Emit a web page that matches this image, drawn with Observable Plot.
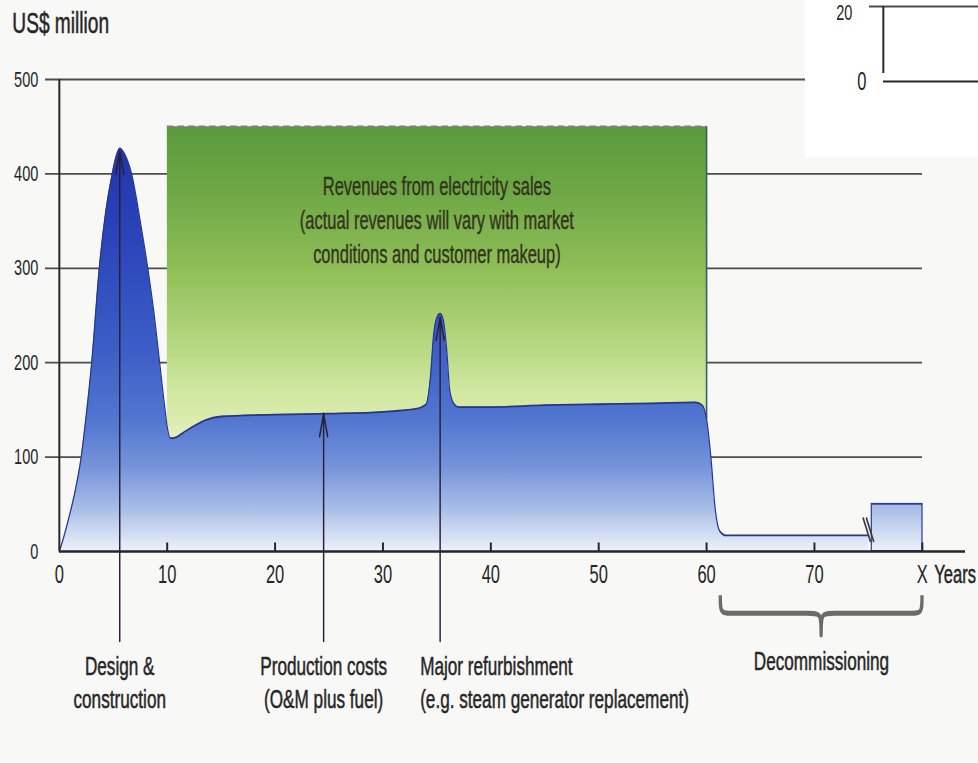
<!DOCTYPE html>
<html>
<head>
<meta charset="utf-8">
<script src="https://cdn.jsdelivr.net/npm/d3@7"></script>
<script src="https://cdn.jsdelivr.net/npm/@observablehq/plot@0.6"></script>
<style>
  html, body { margin: 0; padding: 0; background: #f8f8f6; }
  #wrap { position: relative; width: 978px; height: 763px; overflow: hidden; }
  #inset { position: absolute; left: 805px; top: 0; width: 173px; height: 157px; background: #ffffff; }
</style>
</head>
<body>
<div id="wrap"><div id="chart"></div><div id="inset"></div></div>
<script>
// Lifetime cash flows of a power plant, US$ million per year

// Cost curve: design & construction, operation, refurbishment, shutdown
const years = [0, 0.5, 1, 1.5, 2, 2.5, 3, 3.7, 4.3, 4.9, 5.3, 5.6, 6.0, 6.7, 7.5, 8.2, 8.8, 9.3, 9.8,
  10, 10.3, 10.8, 11.5, 12.5, 13.5, 15, 20, 25, 30, 33, 34, 34.4, 34.7, 35, 35.3, 35.6, 35.9, 36.2, 36.6, 37,
  40, 45, 50, 55, 59, 59.6, 60, 60.4, 60.8, 61.2, 61.8, 70, 75];
const costs = [0, 19, 41, 66, 98, 145, 200, 300, 360, 400, 420, 427, 422, 400, 350, 300, 250, 200, 150,
  132, 120, 121, 126, 133, 139, 143, 145, 146, 148, 151, 156, 185, 230, 248, 252, 245, 215, 170, 156, 153,
  153, 155, 156, 157, 158, 155, 140, 100, 45, 22, 17, 17, 17];

// Revenue band during the operating life
const revenueLevel = 450;
const revenueStart = 10;
const revenueEnd = 60;

// Final decommissioning spending after the axis break
const decomBlock = [{x1: 75.3, x2: 80, value: 50}];
const decomSpan = [61.3, 80];
const breakYear = 74.85;
const breakTop = 36;
const breakBottom = 10;

// Axes
const yTicks = [0, 100, 200, 300, 400, 500];
const xTicks = [0, 10, 20, 30, 40, 50, 60, 70, 80];
const xTickLabels = ["0", "10", "20", "30", "40", "50", "60", "70", "X"];

// Annotated phases
const annotYears = [5.6, 24.5, 35.3];
const annotTips = [424, 146, 248];
const annotLabels = [
  "Design &\nconstruction",
  "Production costs\n(O&M plus fuel)",
  "Major refurbishment\n(e.g. steam generator replacement)"
];
const arrowBase = -95;
const revenueNote = "Revenues from electricity sales\n(actual revenues will vary with market\nconditions and customer makeup)";

// Neighbouring panel axis
const insetTicks = [0, 20];

// The artwork uses a horizontally condensed type: lay out wide, then compress.
const S = 0.66;
const hx = v => v / S;
const W = 978 / S, H = 763;
const ink = "#262626";
const font = "'Liberation Sans', Arial, 'DejaVu Sans', sans-serif";
const bold = {stroke: ink, strokeWidth: 0.5};

const costData = years.map((year, i) => ({year, cost: costs[i]}));
const lifeData = costData.filter(d => d.year >= revenueStart && d.year <= revenueEnd);
const costAt = yr => costData.find(d => d.year === yr).cost;
const annotations = annotYears.map((year, i) => ({year, tip: annotTips[i], label: annotLabels[i]}));

const plot = Plot.plot({
  width: W,
  height: H,
  marginLeft: hx(59),
  marginRight: hx(56),
  marginTop: 79,
  marginBottom: 212,
  style: {fontFamily: font, fontSize: "22px", color: ink, background: "transparent", overflow: "visible"},
  x: {domain: [0, 80], label: null},
  y: {domain: [0, 500], label: null},
  marks: [
    // grid lines (with their left stubs acting as ticks)
    Plot.ruleY(yTicks.filter(d => d > 0), {stroke: "#4d4d4d", strokeWidth: 1.8, insetLeft: -hx(14)}),
    // revenue band above the cost curve
    Plot.areaY(lifeData, {x: "year", y1: "cost", y2: revenueLevel, curve: "monotone-x", fill: "url(#revenueFill)"}),
    Plot.ruleY([revenueLevel], {x1: revenueStart, x2: revenueEnd, stroke: "#7a8472", strokeWidth: 2.4, strokeDasharray: "10,6"}),
    Plot.ruleX([revenueEnd], {y1: costAt(revenueEnd), y2: revenueLevel, stroke: "#37606a", strokeWidth: 2.4}),
    // cost area
    Plot.areaY(costData, {x: "year", y: "cost", curve: "monotone-x", fill: "url(#costFill)"}),
    Plot.rectY(decomBlock, {x1: "x1", x2: "x2", y: "value", fill: "url(#costFill)", stroke: "#2b3a95", strokeWidth: 1.8}),
    Plot.lineY(costData, {x: "year", y: "cost", curve: "monotone-x", stroke: "#27358f", strokeWidth: 1.8}),
    // axis break marks
    Plot.link([0, 1], {
      x1: k => breakYear - 0.35 + k * 0.3, x2: k => breakYear + 0.35 + k * 0.3,
      y1: breakTop, y2: breakBottom, stroke: "#3a3a4a", strokeWidth: 2.4
    }),
    // phase arrows
    Plot.arrow(annotations, {
      x1: "year", x2: "year", y1: arrowBase, y2: "tip",
      stroke: "#2a1f38", strokeWidth: 2.2, headLength: 16, headAngle: 30
    }),
    // axes
    Plot.ruleX([0], {y1: 0, y2: 500, stroke: ink, strokeWidth: 3}),
    Plot.ruleX(xTicks.filter(d => d > 0), {y1: 0, y2: 9, stroke: ink, strokeWidth: 3}),
    Plot.ruleY([0], {stroke: ink, strokeWidth: 2.4, insetRight: -hx(43)}),
    Plot.axisY(yTicks, {tickSize: 0, tickPadding: hx(21), fontSize: 22, fill: ink, ...bold, label: null}),
    Plot.axisX(xTicks, {tickSize: 0, tickPadding: 14, fontSize: 25, fill: ink, ...bold, label: null,
      tickFormat: d => xTickLabels[xTicks.indexOf(d)]}),
    Plot.text(["Years"], {x: 80, frameAnchor: "bottom", dy: 14, dx: hx(12), textAnchor: "start",
      lineAnchor: "top", fontSize: 25, fill: ink, ...bold}),
    Plot.text(["US$ million"], {frameAnchor: "top-left", dx: -hx(47), dy: -67, textAnchor: "start",
      lineAnchor: "top", fontSize: 29, fill: ink, ...bold}),
    // notes
    Plot.text([revenueNote], {x: (revenueStart + revenueEnd) / 2, y: revenueLevel, dy: 44, lineAnchor: "top",
      lineHeight: 1.36, fontSize: 25, fill: "#33331f", stroke: "#33331f", strokeWidth: 0.4}),
    Plot.text(annotations.slice(0, 2), {x: "year", text: "label", frameAnchor: "bottom", dy: 100,
      lineAnchor: "top", lineHeight: 1.26, fontSize: 26, fill: ink, ...bold}),
    Plot.text(annotations.slice(2), {x: "year", text: "label", frameAnchor: "bottom", dy: 100, dx: -hx(20),
      textAnchor: "start", lineAnchor: "top", lineHeight: 1.26, fontSize: 26, fill: ink, ...bold}),
    Plot.text(["Decommissioning"], {x: (decomSpan[0] + decomSpan[1]) / 2, frameAnchor: "bottom", dy: 100,
      lineAnchor: "top", fontSize: 26, fill: ink, ...bold})
  ]
});

const xs = plot.scale("x").apply;
const ys = plot.scale("y").apply;
const svg = d3.select(plot);
const defs = svg.insert("defs", ":first-child");

function gradient(id, top, bottom, stops) {
  const y0 = ys(top), y1 = ys(bottom);
  const g = defs.append("linearGradient").attr("id", id).attr("gradientUnits", "userSpaceOnUse")
    .attr("x1", 0).attr("x2", 0).attr("y1", y0).attr("y2", y1);
  for (const [v, c] of stops) {
    g.append("stop").attr("offset", (ys(v) - y0) / (y1 - y0)).attr("stop-color", c);
  }
}
gradient("costFill", 430, 0, [
  [430, "#2233ab"], [330, "#2b45b9"], [220, "#3b5cc5"], [140, "#5176d0"],
  [90, "#7593da"], [45, "#a8bde7"], [0, "#eef2f9"]
]);
gradient("revenueFill", revenueLevel, 120, [
  [450, "#5a9a3b"], [380, "#6ea845"], [300, "#8fbe57"], [230, "#b0d47a"],
  [170, "#d0e7a0"], [120, "#e2efb9"]
]);

// brace spanning the decommissioning period
const xL = xs(decomSpan[0]), xR = xs(decomSpan[1]), xM = (xL + xR) / 2;
const yTop = ys(-47), yMid = ys(-66), yTip = ys(-89), r = hx(14);
svg.append("path")
  .attr("fill", "none").attr("stroke", "#6b6b6b").attr("stroke-width", 5).attr("stroke-linejoin", "round")
  .attr("d", `M${xL},${yTop} C${xL},${yMid} ${xL},${yMid} ${xL + r},${yMid} L${xM - r},${yMid}
    C${xM},${yMid} ${xM},${yMid} ${xM},${yTip} C${xM},${yMid} ${xM},${yMid} ${xM + r},${yMid}
    L${xR - r},${yMid} C${xR},${yMid} ${xR},${yMid} ${xR},${yTop}`);

function condense(el, realWidth, height) {
  el.setAttribute("width", realWidth);
  el.setAttribute("height", height);
  el.setAttribute("preserveAspectRatio", "none");
  el.style.width = realWidth + "px";
  el.style.height = height + "px";
  el.style.maxWidth = "none";
}
condense(plot, 978, 763);
document.getElementById("chart").appendChild(plot);

// corner of the adjacent panel
const inset = Plot.plot({
  width: 173 / S,
  height: 157,
  marginLeft: hx(78),
  marginRight: 0,
  marginTop: 6,
  marginBottom: 76,
  style: {fontFamily: font, fontSize: "24px", color: ink, background: "transparent", overflow: "visible"},
  x: {domain: [0, 1], axis: null, label: null},
  y: {domain: [0, 20], label: null},
  marks: [
    Plot.ruleY([20], {stroke: "#4d4d4d", strokeWidth: 1.8, insetLeft: -hx(14)}),
    Plot.ruleY([0], {stroke: ink, strokeWidth: 2.2}),
    Plot.ruleX([0], {y1: 0, y2: 20, insetTop: -8, stroke: ink, strokeWidth: 3}),
    Plot.axisY(insetTicks.filter(d => d > 0), {tickSize: 0, tickPadding: hx(31), dy: 6, fontSize: 22,
      fill: ink, ...bold, label: null}),
    Plot.axisY(insetTicks.filter(d => d === 0), {tickSize: 0, tickPadding: hx(17), fontSize: 25,
      fill: ink, ...bold, label: null})
  ]
});
condense(inset, 173, 157);
document.getElementById("inset").appendChild(inset);
</script>
</body>
</html>
